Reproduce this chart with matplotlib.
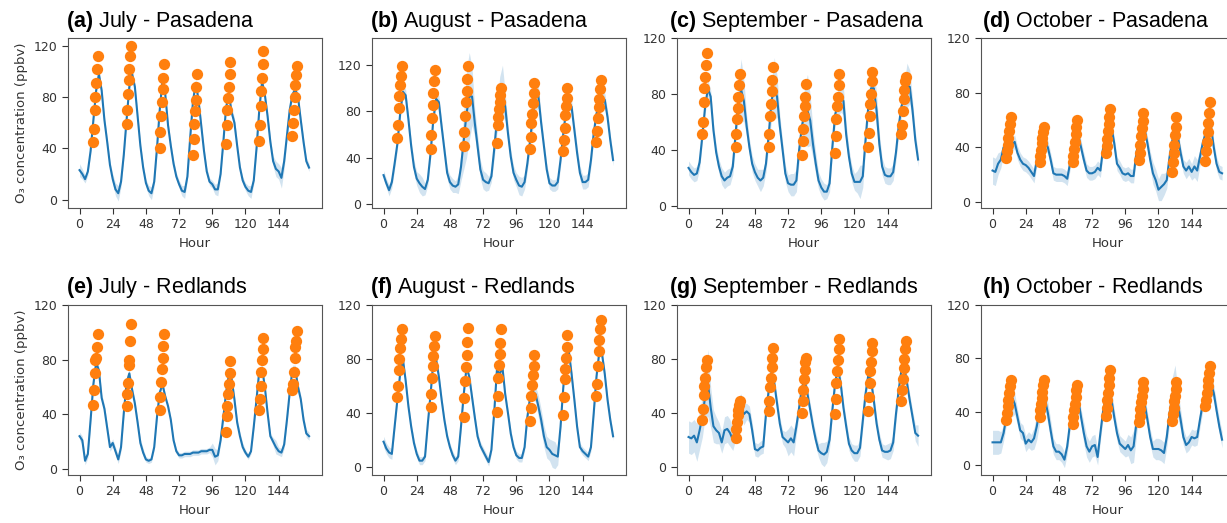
import numpy as np
import matplotlib
matplotlib.use('Agg')
import matplotlib.pyplot as plt

plt.rcParams['mathtext.fontset'] = 'custom'
plt.rcParams['mathtext.bf'] = 'Liberation Sans:bold'
plt.rcParams['mathtext.rm'] = 'Liberation Sans'

#=======================================================================================
# Data: hourly O3 every 2 h, spread of the shaded band,
# and the orange predicted-peak dots for each day
#=======================================================================================

hours = np.arange(0, 168, 2)
dot_offsets = [10, 10.5, 11, 11.5, 12, 12.5, 13]

labels = ['(a)', '(b)', '(c)', '(d)', '(e)', '(f)', '(g)', '(h)']
titles = ['July - Pasadena', 'August - Pasadena', 'September - Pasadena', 'October - Pasadena',
          'July - Redlands', 'August - Redlands', 'September - Redlands', 'October - Redlands']

o3_a = [23,20,16,22,38,62,85,98,85,62,45,27,
        16,8,5,14,35,62,88,98,88,65,42,25,
        13,7,5,14,40,70,93,82,58,42,28,18,
        12,7,6,18,48,76,91,78,58,38,22,14,
        12,8,8,20,45,72,82,68,60,42,25,15,
        10,7,6,15,40,70,92,82,65,45,30,24,
        22,17,30,50,70,82,86,80,62,45,30,25]
o3_b = [25,18,12,19,35,52,78,97,94,73,50,32,
        22,18,15,13,21,44,73,91,88,67,47,27,
        19,16,15,17,32,55,78,93,93,70,50,30,
        21,19,18,24,47,73,90,98,84,61,41,27,
        21,16,15,19,35,55,77,94,93,70,50,30,
        18,16,16,19,38,61,81,88,84,64,44,27,
        19,19,21,38,61,78,88,91,90,75,55,38]
o3_c = [27,24,22,23,31,50,71,84,78,54,38,28,
        21,18,20,21,28,51,75,83,75,57,42,30,
        24,20,18,20,30,51,75,84,78,57,40,23,
        16,15,15,18,40,57,66,68,61,44,30,18,
        13,10,10,16,42,65,73,77,75,51,35,23,
        17,17,17,21,47,71,84,84,68,44,28,22,
        21,21,24,38,57,71,78,86,85,68,47,33]
o3_d = [23,22,28,31,40,41,40,42,44,36,31,28,
        27,25,22,19,31,37,40,44,40,31,21,20,
        20,20,19,17,28,40,46,49,40,31,23,21,
        21,22,25,23,40,50,54,55,43,28,25,21,
        20,21,19,19,36,45,51,53,43,31,21,16,
        9,11,13,16,33,45,53,48,36,26,23,26,
        22,26,23,33,43,50,60,55,40,28,22,21]
o3_e = [24,21,6,11,36,62,78,72,52,44,30,16,
        19,13,7,16,41,63,70,58,48,34,19,12,
        7,6,7,16,38,56,62,53,46,36,21,13,
        10,10,11,11,11,12,12,12,13,13,13,14,
        14,9,10,21,38,56,69,66,51,34,24,16,
        12,9,13,31,51,72,74,60,41,24,20,16,
        13,12,18,36,56,73,73,60,51,36,26,24]
o3_f = [19,14,11,10,30,50,69,80,64,45,30,18,
        10,5,5,8,32,54,78,80,67,50,35,23,
        15,9,5,8,30,54,74,67,52,37,23,16,
        12,8,4,13,40,72,69,74,54,40,25,15,
        9,7,7,15,37,52,56,54,45,35,23,15,
        13,10,9,8,30,59,84,86,69,50,30,15,
        12,10,8,15,40,67,85,84,69,50,35,23]
o3_g = [22,21,23,18,27,37,52,62,44,30,27,25,
        18,27,28,25,20,30,42,46,39,41,39,27,
        13,12,14,15,39,57,70,62,47,32,22,20,
        18,21,18,30,44,59,64,54,42,30,20,12,
        10,9,11,20,42,62,73,62,44,30,17,12,
        10,10,14,34,54,68,64,49,32,20,12,11,
        11,12,18,39,57,72,74,62,49,37,25,23]
o3_h = [17,17,17,17,24,36,46,51,46,36,26,24,
        16,19,17,20,29,41,47,49,39,26,14,10,
        10,8,4,14,31,44,52,49,36,24,14,10,
        14,15,6,24,41,51,54,49,36,24,16,14,
        12,15,11,14,31,46,51,46,34,21,12,12,
        12,11,9,21,39,51,55,46,34,21,15,17,
        21,20,21,34,46,56,66,61,54,41,29,19]

sd_a = [5,4,3,3,3,3,3,3,3,3,3,3, 4,5,6,4,3,3,3,4,3,3,3,3, 3,4,5,4,3,3,3,3,3,3,3,3,
        3,4,5,3,3,3,3,3,3,3,3,3, 3,4,5,3,3,3,3,4,4,3,3,3, 3,4,5,3,3,3,3,3,3,3,4,6,
        6,8,6,4,3,3,3,3,3,3,3,3]
sd_b = [4,4,5,5,5,5,5,5,5,5,5,6, 6,8,8,5,5,5,5,6,6,5,5,5, 6,6,5,8,12,25,38,38,25,12,10,8,
        8,8,6,5,8,12,20,22,12,8,6,6, 6,8,8,6,6,8,12,14,10,6,5,5, 5,5,5,6,6,6,6,6,6,6,6,6,
        6,6,6,6,6,6,6,6,6,6,5,5]
sd_c = [5,5,5,5,5,5,5,6,5,5,5,5, 6,6,6,6,6,8,12,22,15,8,6,6, 6,6,8,6,6,8,14,22,15,8,6,6,
        6,8,8,8,8,10,20,26,18,10,8,6, 6,6,5,6,6,8,10,10,10,8,6,6, 6,8,12,8,6,8,12,14,12,8,6,6,
        6,6,6,6,6,8,10,16,12,8,6,5]
sd_d = [10,10,8,6,5,5,5,5,5,5,5,5, 5,5,5,5,5,5,5,5,5,5,5,5, 5,5,5,5,5,5,5,5,5,5,5,5,
        5,5,5,5,5,5,5,5,5,5,5,5, 5,5,5,5,5,5,5,5,5,6,8,8, 8,10,8,6,5,5,5,5,5,5,6,6,
        6,8,8,6,5,5,5,5,5,5,5,5]
sd_e = [3,3,3,3,3,3,3,3,3,3,3,3, 3,3,3,3,3,3,3,3,3,3,3,3, 2,2,2,2,2,2,2,2,2,2,2,2,
        2,2,2,2,2,2,2,2,2,2,2,2, 5,6,4,3,3,3,3,3,3,3,3,3, 2,2,2,2,2,2,2,2,2,2,3,5,
        3,3,3,3,3,3,3,3,3,3,3,3]
sd_f = [4,4,4,4,3,3,3,3,3,3,3,3, 3,3,3,3,3,3,3,3,3,3,3,3, 3,3,3,3,3,3,3,3,3,3,3,3,
        3,3,3,3,3,3,3,3,3,3,3,3, 3,3,3,3,3,3,5,6,8,8,8,8, 8,10,10,6,4,3,3,3,3,3,3,3,
        3,3,3,3,3,3,3,3,3,3,3,3]
sd_g = [12,12,12,14,14,15,15,25,15,12,10,8, 8,10,10,10,8,10,10,8,8,6,6,6, 5,5,5,5,5,5,5,5,5,5,5,6,
        10,10,10,6,5,5,5,5,5,5,5,5, 8,9,8,6,5,5,5,5,5,5,5,5, 6,6,6,6,5,5,5,5,5,5,5,5,
        6,6,6,6,5,5,5,5,5,5,6,8]
sd_h = [9,9,9,8,6,6,8,15,8,6,6,6, 6,6,6,8,10,10,10,8,8,8,6,6, 6,6,6,6,6,6,6,6,6,8,8,8,
        8,8,6,6,6,6,10,8,6,6,6,6, 6,8,10,12,10,8,6,6,6,6,6,8, 8,8,8,8,8,15,20,10,8,6,6,6,
        6,6,6,6,6,6,6,8,6,6,6,6]

dots_a = [[45,55,70,80,91,102,112], [59,70,82,93,102,112,120], [40,53,65,76,86,95,106],
          [35,47,59,69,78,88,98], [43,58,70,79,88,98,107], [46,58,73,85,95,106,116],
          [50,60,70,80,89,97,104]]
dots_b = [[57,68,83,93,103,111,119], [48,60,74,86,96,106,116], [50,62,76,88,98,108,119],
          [53,68,75,82,88,94,100], [48,58,70,78,87,96,105], [46,55,66,77,85,92,100],
          [54,63,74,84,91,99,107]]
dots_c = [[51,60,74,84,92,101,109], [42,51,62,70,78,86,94], [42,51,64,73,82,90,99],
          [36,46,55,64,71,78,87], [38,50,62,71,78,86,94], [42,52,64,73,80,89,96],
          [51,58,68,76,83,89,92]]
dots_d = [[32,37,42,47,52,57,62], [29,34,38,43,47,51,55], [29,34,39,44,50,55,60],
          [36,41,46,52,57,62,68], [31,36,42,48,54,59,65], [22,29,36,42,49,55,62],
          [30,37,44,51,58,65,73]]
dots_e = [[47,58,70,80,81,89,99], [46,55,63,76,80,94,106], [43,53,64,73,81,90,99],
          [27,39,46,55,62,70,79], [43,51,61,71,80,88,96], [58,62,71,81,89,94,101]]
dots_f = [[52,60,72,80,88,95,102], [45,54,66,75,82,90,97], [37,51,64,74,83,93,103],
          [41,53,66,76,84,92,102], [34,44,53,61,68,75,83], [39,52,65,73,81,89,98],
          [53,62,75,86,94,102,109]]
dots_g = [[35,43,53,60,66,74,79], [21,28,33,38,42,46,49], [41,49,59,66,74,81,88],
          [40,49,57,65,72,78,81], [39,50,62,71,79,87,95], [41,52,62,71,78,86,92],
          [49,57,65,73,80,87,93]]
dots_h = [[34,39,44,49,54,59,64], [36,41,46,50,55,60,64], [31,36,41,46,51,56,60],
          [37,43,49,54,60,65,71], [32,37,42,47,52,57,62], [33,38,43,48,52,57,62],
          [44,49,54,59,64,69,74]]

days_all = [0, 1, 2, 3, 4, 5, 6]
days_e = [0, 1, 2, 4, 5, 6]

o3_list = [o3_a, o3_b, o3_c, o3_d, o3_e, o3_f, o3_g, o3_h]
sd_list = [sd_a, sd_b, sd_c, sd_d, sd_e, sd_f, sd_g, sd_h]
dots_list = [dots_a, dots_b, dots_c, dots_d, dots_e, dots_f, dots_g, dots_h]
days_list = [days_all, days_all, days_all, days_all, days_e, days_all, days_all, days_all]
ylims = [(-6.5, 126), (-3.4, 143.5), (-1.7, 120), (-4.4, 120),
         (-4.4, 120), (-5.6, 120), (-6.2, 120), (-7.5, 120)]

#=======================================================================================
# Figure
#=======================================================================================

W, H = 1227, 523
fig = plt.figure(figsize=(W/100, H/100), dpi=100)

lefts = [68, 372, 677, 981]
tops = [38, 305]
ax_w, ax_h = 254, 170
title_x = [66, 370, 669, 982]
title_base = [27, 293]

for i in range(8):
    r, c = divmod(i, 4)
    ax = fig.add_axes([lefts[c]/W, 1 - (tops[r] + ax_h)/H, ax_w/W, ax_h/H])
    y = np.array(o3_list[i], dtype=float)
    s = np.array(sd_list[i], dtype=float)
    ax.fill_between(hours, y - s, y + s, color='#1f77b4', alpha=0.2, lw=0)
    ax.plot(hours, y, '-', color='#1f77b4', lw=1.5)
    for d, vals in zip(days_list[i], dots_list[i]):
        xs = [24*d + o for o in dot_offsets]
        ax.scatter(xs, vals, s=66, color='#ff7f0e', lw=0, zorder=3)

    ax.set_xlim(-8.35, 175.35)
    ax.set_ylim(*ylims[i])
    ax.set_xticks([0, 24, 48, 72, 96, 120, 144])
    ax.set_yticks([0, 40, 80, 120])
    ax.tick_params(labelsize=9, colors='#333333', length=4)
    for sp in ax.spines.values():
        sp.set_color('#555555')
    ax.set_xlabel('Hour', fontsize=9.5, color='#333333')
    if c == 0:
        ax.set_ylabel('O₃ concentration (ppbv)', fontsize=9.5, color='#333333')
    fig.text(title_x[c]/W, 1 - title_base[r]/H, r'$\mathbf{' + labels[i] + '}$ ' + titles[i],
             fontsize=15.5, family='Liberation Sans', va='baseline', ha='left')

plt.savefig('out.png', dpi=100)
plt.close()
